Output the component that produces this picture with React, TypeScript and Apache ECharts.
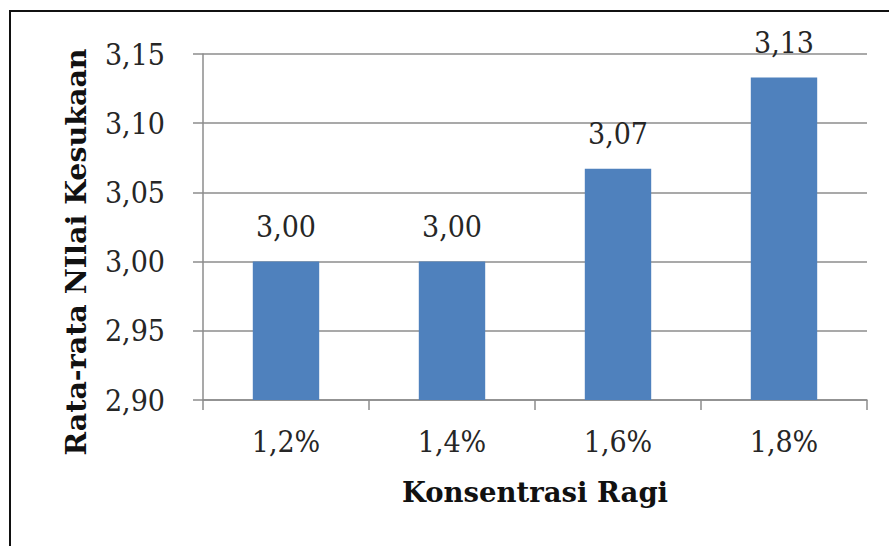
import React, { useEffect, useRef } from "react";
import * as echarts from "echarts";

const categories = ["1,2%", "1,4%", "1,6%", "1,8%"];
const values = [3.0, 3.0, 3.067, 3.133];
const valueLabels = ["3,00", "3,00", "3,07", "3,13"];
const yTitle = "Rata-rata NIlai Kesukaan";
const xTitle = "Konsentrasi Ragi";

const FONT = "'DejaVu Serif Condensed', 'Liberation Serif', serif";
const TFONT = "'DejaVu Serif', serif";

export default function App() {
  const ref = useRef<HTMLDivElement>(null);
  useEffect(() => {
    if (!ref.current) return;
    const chart = echarts.init(ref.current, undefined, { renderer: "svg" });
    chart.setOption({
      animation: false,
      backgroundColor: "#ffffff",
      grid: { left: 203, right: 22, top: 54, bottom: 146 },
      xAxis: {
        type: "category",
        data: categories,
        axisLine: { lineStyle: { color: "#8c8c8c", width: 1.5 } },
        axisTick: { show: true, length: 10, lineStyle: { color: "#8c8c8c", width: 1.5 } },
        axisLabel: { color: "#262626", fontFamily: FONT, fontSize: 30, margin: 26 },
        name: xTitle,
        nameLocation: "middle",
        nameGap: 78,
        nameTextStyle: { color: "#111", fontFamily: TFONT, fontSize: 27.5, fontWeight: "bold", verticalAlign: "top" },
      },
      yAxis: {
        type: "value",
        min: 2.9,
        max: 3.15,
        interval: 0.05,
        axisLine: { show: true, lineStyle: { color: "#8c8c8c", width: 1.5 } },
        axisTick: { show: true, length: 10, lineStyle: { color: "#8c8c8c", width: 1.5 } },
        splitLine: { lineStyle: { color: "#8c8c8c", width: 1.5 } },
        axisLabel: {
          color: "#262626",
          fontFamily: FONT,
          fontSize: 30,
          margin: 38,
          formatter: (v: number) => v.toFixed(2).replace(".", ","),
        },
      },
      series: [
        {
          type: "bar",
          data: values,
          barWidth: "40%",
          itemStyle: { color: "#4f81bd" },
          z: 3,
          label: {
            show: true,
            position: "top",
            distance: 20,
            color: "#262626",
            fontFamily: FONT,
            fontSize: 30,
            formatter: (p: any) => valueLabels[p.dataIndex],
          },
        },
      ],
      graphic: [
        {
          type: "rect",
          shape: { x: 10, y: 11, width: 1000, height: 1000 },
          style: { fill: "none", stroke: "#111", lineWidth: 2 },
          z: 0,
        },
        {
          type: "text",
          x: 76,
          y: 252,
          rotation: Math.PI / 2,
          style: {
            text: yTitle,
            fill: "#111",
            font: `bold 28.5px ${TFONT}`,
            align: "center",
            verticalAlign: "middle",
          },
        },
      ],
    });
    return () => chart.dispose();
  }, []);
  return (
    <div
      ref={ref}
      style={{ position: "fixed", left: 0, top: 0, width: 889, height: 546 }}
    />
  );
}
